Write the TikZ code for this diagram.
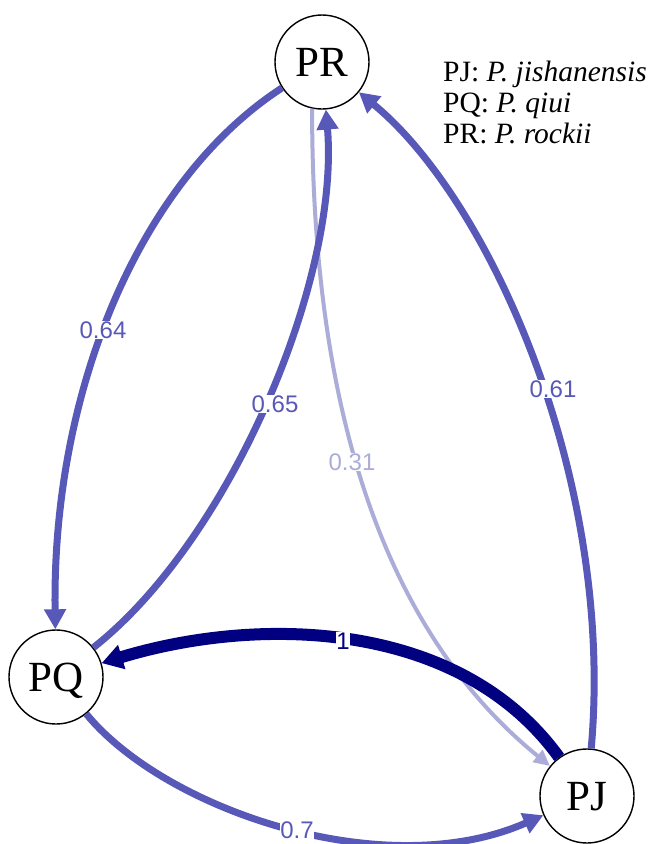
\documentclass[tikz,border=0pt]{standalone}
\usepackage{fontspec}
\setmainfont{Liberation Serif}
\newfontfamily\labelfont{Liberation Sans}
\usetikzlibrary{arrows.meta}

\definecolor{edgemid}{RGB}{88,88,184}
\definecolor{edgelight}{RGB}{172,172,216}
\definecolor{edgedark}{RGB}{0,0,128}

\begin{document}
\begin{tikzpicture}[x=1pt,y=-1pt,
  species/.style={circle, draw=black, line width=1.4pt, fill=white,
    minimum size=94pt, inner sep=0pt,
    font=\fontsize{43}{43}\selectfont, text height=29pt, text depth=0pt},
  midedge/.style={draw=edgemid, line width=7pt,
    -{Triangle[length=20pt,width=21pt]}},
  lightedge/.style={draw=edgelight, line width=4pt,
    -{Triangle[length=16pt,width=15pt]}},
  darkedge/.style={draw=edgedark, line width=12pt,
    -{Triangle[length=21pt,width=24pt]}},
  elabel/.style={inner sep=0.8pt, fill=white,
    font=\labelfont\fontsize{24}{24}\selectfont},
  legendline/.style={anchor=base west, inner sep=0pt,
    font=\fontsize{29.5}{30}\selectfont}]

\useasboundingbox (0,0) rectangle (648,844);
\fill[white] (0,0) rectangle (648,844);

% species nodes
\node[species] (PR) at (322,62) {PR};
\node[species] (PQ) at (56,677) {PQ};
\node[species] (PJ) at (587,796) {PJ};

% weighted directed edges
\draw[lightedge] (PR.258) .. controls (312,380) and (370,620) .. (PJ);
\draw[midedge] (PR) .. controls (140,180) and (52,390) .. (PQ);
\draw[midedge] (PQ) .. controls (230,540) and (340,280) .. (PR);
\draw[midedge] (PJ) .. controls (615,480) and (490,200) .. (PR);
\draw[midedge] (PQ) .. controls (165,810) and (385,885) .. (PJ);
\draw[darkedge] (PJ) .. controls (460,620) and (260,615) .. (PQ);

% edge weights
\node[elabel, text=edgemid]   (w064) at (103,330) {0.64};
\node[elabel, text=edgemid]   (w065) at (275,404) {0.65};
\node[elabel, text=edgemid]   (w061) at (553,389) {0.61};
\node[elabel, text=edgelight] (w031) at (352,462) {0.31};
\node[elabel, text=edgedark]  (w1)   at (343,641) {1};
\node[elabel, text=edgemid]   (w07)  at (297,830) {0.7};

% key to the abbreviations
\node[legendline] (keyPJ) at (443,81)  {PJ: \textit{P. jishanensis}};
\node[legendline] (keyPQ) at (443,112) {PQ: \textit{P. qiui}};
\node[legendline] (keyPR) at (443,143) {PR: \textit{P. rockii}};
\end{tikzpicture}
\end{document}
